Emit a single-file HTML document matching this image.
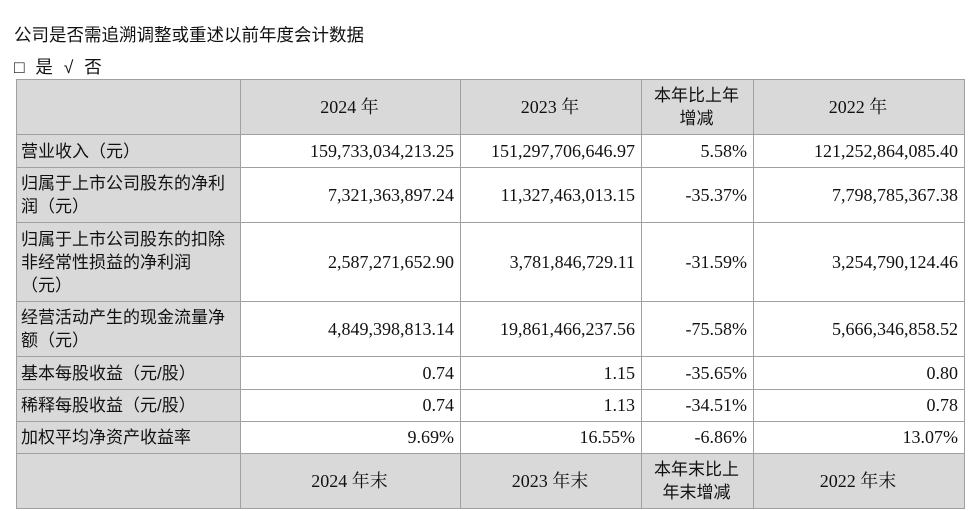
<!DOCTYPE html>
<html><head><meta charset="utf-8"><style>
body{margin:0;width:970px;height:511px;background:#fff;position:relative;overflow:hidden;font-family:"Liberation Serif","Noto Serif CJK SC",serif;color:#111}
.t{position:absolute;left:14px;font-family:"Liberation Sans","Noto Sans CJK SC",sans-serif;font-size:17.5px}
table{position:absolute;left:16px;top:79px;border-collapse:collapse;table-layout:fixed}
td{border:1px solid #a0a0a0;padding:0 6px 0 4px;font-size:18px;line-height:23px;text-align:right;white-space:nowrap}
td.l{background:#d9d9d9;text-align:left;font-family:"Liberation Sans","Noto Sans CJK SC",sans-serif;font-size:17px;padding-left:4px}
tr.h td{background:#d9d9d9;text-align:center}
.c{font-family:"Liberation Sans","Noto Sans CJK SC",sans-serif;font-size:17px}
</style></head><body>
<div class="t" style="top:22px">公司是否需追溯调整或重述以前年度会计数据</div>
<div class="t" style="top:54px;word-spacing:6px">□ 是 √ 否</div>
<table>
<colgroup><col style="width:224px"><col style="width:220px"><col style="width:181px"><col style="width:112px"><col style="width:211px"></colgroup>
<tr class="h" style="height:55px"><td></td><td>2024 年</td><td>2023 年</td><td class="c">本年比上年<br>增减</td><td>2022 年</td></tr>
<tr style="height:33px"><td class="l">营业收入（元）</td><td>159,733,034,213.25</td><td>151,297,706,646.97</td><td>5.58%</td><td>121,252,864,085.40</td></tr>
<tr style="height:55px"><td class="l">归属于上市公司股东的净利<br>润（元）</td><td>7,321,363,897.24</td><td>11,327,463,013.15</td><td>-35.37%</td><td>7,798,785,367.38</td></tr>
<tr style="height:79px"><td class="l">归属于上市公司股东的扣除<br>非经常性损益的净利润<br>（元）</td><td>2,587,271,652.90</td><td>3,781,846,729.11</td><td>-31.59%</td><td>3,254,790,124.46</td></tr>
<tr style="height:55px"><td class="l">经营活动产生的现金流量净<br>额（元）</td><td>4,849,398,813.14</td><td>19,861,466,237.56</td><td>-75.58%</td><td>5,666,346,858.52</td></tr>
<tr style="height:33px"><td class="l">基本每股收益（元/股）</td><td>0.74</td><td>1.15</td><td>-35.65%</td><td>0.80</td></tr>
<tr style="height:32px"><td class="l">稀释每股收益（元/股）</td><td>0.74</td><td>1.13</td><td>-34.51%</td><td>0.78</td></tr>
<tr style="height:32px"><td class="l">加权平均净资产收益率</td><td>9.69%</td><td>16.55%</td><td>-6.86%</td><td>13.07%</td></tr>
<tr class="h" style="height:55px"><td></td><td>2024 年末</td><td>2023 年末</td><td class="c">本年末比上<br>年末增减</td><td>2022 年末</td></tr>
</table>
</body></html>
